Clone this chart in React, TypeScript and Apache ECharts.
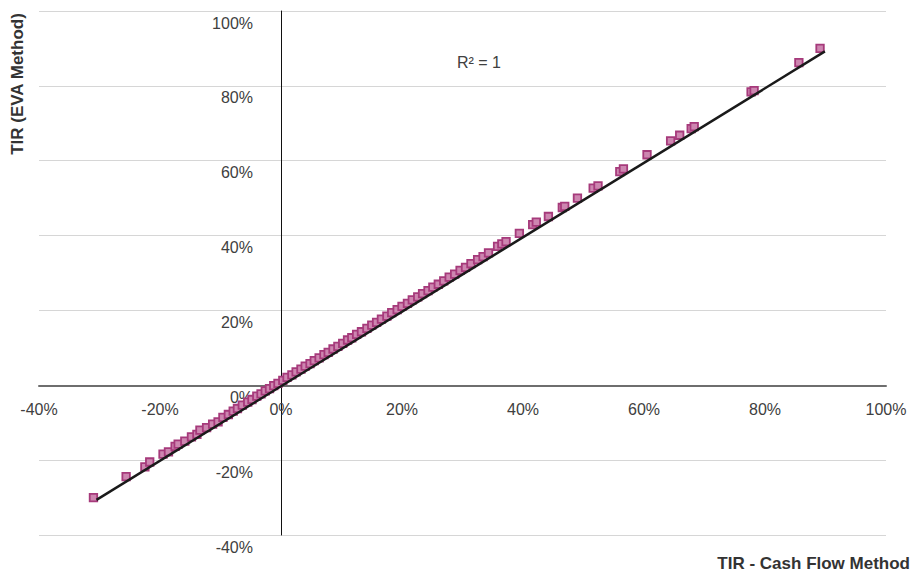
import React, { useEffect, useRef } from "react";
import * as echarts from "echarts";

const xTicks = [-40, -20, 0, 20, 40, 60, 80, 100];

const cashFlowTIR = [
  -31.0, -25.6, -22.5, -21.7, -19.5, -18.6, -17.5, -17.0, -15.9, -14.8, -13.9, -13.4, -12.3, -11.3,
  -10.4, -9.6, -8.7, -7.9, -7.2, -6.4, -5.5, -4.8, -4.0, -3.3, -2.6, -1.9, -1.2, -0.5, 0.3, 1.0,
  1.8, 2.5, 3.3, 4.0, 4.8, 5.5, 6.3, 7.1, 7.8, 8.6, 9.4, 10.2, 11.0, 11.7, 12.5, 13.3, 14.2, 15.0,
  15.8, 16.6, 17.5, 18.3, 19.2, 20.0, 20.9, 21.7, 22.6, 23.4, 24.3, 25.1, 26.0, 26.9, 27.8, 28.7,
  29.6, 30.5, 31.4, 32.5, 33.4, 34.3, 35.8, 36.5, 37.2, 39.4, 41.6, 42.2, 44.2, 46.5, 46.9, 49.0,
  51.6, 52.4, 56.0, 56.6, 60.5, 64.4, 65.9, 67.8, 68.3, 77.7, 78.2, 85.6, 89.1,
];

const evaTIR = [
  -30.0, -24.4, -21.8, -20.5, -18.4, -17.8, -16.3, -15.7, -14.9, -13.8, -13.1, -12.0, -11.3, -10.4,
  -9.8, -8.6, -7.8, -6.9, -6.2, -5.3, -4.5, -3.8, -2.9, -2.3, -1.5, -0.9, -0.1, 0.5, 1.3, 2.1,
  2.8, 3.6, 4.3, 5.1, 5.8, 6.6, 7.3, 8.2, 8.8, 9.7, 10.4, 11.2, 12.1, 12.7, 13.6, 14.3, 15.2, 16.1,
  16.8, 17.7, 18.5, 19.4, 20.2, 21.1, 21.9, 22.8, 23.6, 24.5, 25.3, 26.2, 27.0, 27.9, 28.9, 29.7,
  30.7, 31.5, 32.5, 33.6, 34.4, 35.4, 37.1, 37.8, 38.4, 40.6, 42.9, 43.6, 45.1, 47.5, 47.8, 50.0,
  52.7, 53.3, 57.1, 57.8, 61.6, 65.3, 66.8, 68.6, 69.1, 78.4, 78.7, 86.2, 90.0,
];

const trendX = [-30.5, 89.9];
const trendY = [-30.6, 89.2];

const FONT = "'Liberation Sans', Arial, sans-serif";

const GRID = { left: 39, right: 31, top: 11, bottom: 36 };
const W = 917;
const H = 571;
const X_MIN = xTicks[0];
const X_MAX = xTicks[xTicks.length - 1];
const Y_MIN = -40;
const Y_MAX = 100;

export default function App() {
  const ref = useRef<HTMLDivElement>(null);

  useEffect(() => {
    if (!ref.current) return;
    const chart = echarts.init(ref.current, null, { renderer: "svg" });
    const points = cashFlowTIR.map((x, i) => [x, evaTIR[i]]);
    const trend = trendX.map((x, i) => [x, trendY[i]]);
    const plotW = W - GRID.left - GRID.right;
    const plotH = H - GRID.top - GRID.bottom;
    // shift axes so they cross at zero
    const yAxisOffset = -((0 - X_MIN) / (X_MAX - X_MIN)) * plotW;
    const xAxisOffset = -((0 - Y_MIN) / (Y_MAX - Y_MIN)) * plotH;
    chart.setOption({
      animation: false,
      backgroundColor: "#ffffff",
      textStyle: { fontFamily: FONT },
      grid: { ...GRID, containLabel: false, outerBoundsMode: "none" },
      xAxis: {
        type: "value",
        position: "bottom",
        offset: xAxisOffset,
        min: X_MIN,
        max: X_MAX,
        interval: 20,
        axisLine: { onZero: false, lineStyle: { color: "#6e6e6e", width: 2 } },
        axisTick: { show: false },
        splitLine: { show: false },
        axisLabel: {
          formatter: "{value}%",
          margin: 16,
          fontSize: 16,
          color: "#404040",
          fontFamily: FONT,
          showMinLabel: true,
          showMaxLabel: true,
        },
      },
      yAxis: {
        type: "value",
        position: "left",
        offset: yAxisOffset,
        min: Y_MIN,
        max: Y_MAX,
        interval: 20,
        axisLine: { onZero: false, lineStyle: { color: "#111111", width: 1 } },
        axisTick: { show: false },
        splitLine: { lineStyle: { color: "#d6d6d6", width: 1 } },
        axisLabel: {
          formatter: "{value}%",
          margin: 28,
          fontSize: 16,
          color: "#404040",
          fontFamily: FONT,
          verticalAlign: "top",
          lineHeight: 24,
          showMinLabel: true,
          showMaxLabel: true,
        },
      },
      graphic: [
        {
          type: "text",
          x: 17,
          y: 84,
          rotation: Math.PI / 2,
          style: {
            text: "TIR (EVA Method)",
            fill: "#333333",
            font: `bold 17px ${FONT}`,
            align: "center",
            verticalAlign: "middle",
          },
        },
        {
          type: "text",
          x: 910,
          y: 563,
          style: {
            text: "TIR - Cash Flow Method",
            fill: "#333333",
            font: `bold 17px ${FONT}`,
            align: "right",
            verticalAlign: "middle",
          },
        },
        {
          type: "text",
          x: 479,
          y: 62,
          style: {
            text: "R² = 1",
            fill: "#404040",
            font: `16px ${FONT}`,
            align: "center",
            verticalAlign: "middle",
          },
        },
      ],
      series: [
        {
          type: "scatter",
          data: points,
          symbol: "rect",
          symbolSize: 7.5,
          itemStyle: { color: "#cd86b0", borderColor: "#a63a7b", borderWidth: 1.8, opacity: 1 },
          z: 3,
        },
        {
          type: "line",
          data: trend,
          symbol: "none",
          lineStyle: { color: "#1a1a1a", width: 2.5 },
          z: 5,
        },
      ],
    });
    return () => chart.dispose();
  }, []);

  return <div ref={ref} style={{ width: W, height: H, position: "absolute", left: 0, top: 0 }} />;
}
